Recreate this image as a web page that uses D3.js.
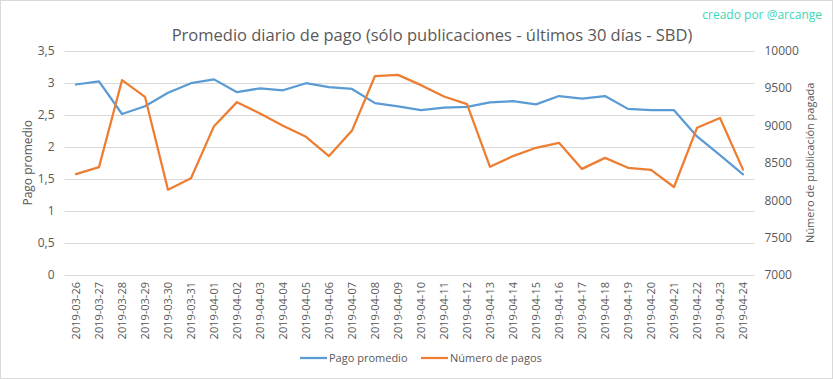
<!DOCTYPE html>
<html><head><meta charset="utf-8">
<script src="https://cdn.jsdelivr.net/npm/d3@7"></script>
<style>
html,body{margin:0;padding:0;background:#fff;}
svg{display:block;font-family:"Open Sans",sans-serif;}
</style></head>
<body>
<svg id="c" width="833" height="379"></svg>
<script>
const dates = ["2019-03-26","2019-03-27","2019-03-28","2019-03-29","2019-03-30","2019-03-31",
"2019-04-01","2019-04-02","2019-04-03","2019-04-04","2019-04-05","2019-04-06","2019-04-07",
"2019-04-08","2019-04-09","2019-04-10","2019-04-11","2019-04-12","2019-04-13","2019-04-14",
"2019-04-15","2019-04-16","2019-04-17","2019-04-18","2019-04-19","2019-04-20","2019-04-21",
"2019-04-22","2019-04-23","2019-04-24"];
const pagoPromedio = [2.97,3.02,2.51,2.63,2.84,2.99,3.05,2.85,2.91,2.88,2.99,2.93,2.90,
2.68,2.63,2.57,2.61,2.62,2.69,2.71,2.66,2.79,2.75,2.79,2.59,2.57,2.57,2.16,1.87,1.57];
const numeroPagos = [8348,8442,9603,9381,8140,8293,8989,9310,9159,8993,8846,8589,8930,
9659,9674,9537,9386,9283,8446,8589,8700,8766,8418,8565,8433,8405,8176,8967,9099,8408];
const leftTicks = [0,0.5,1,1.5,2,2.5,3,3.5];
const rightTicks = [7000,7500,8000,8500,9000,9500,10000];
const title = "Promedio diario de pago (sólo publicaciones - últimos 30 días - SBD)";
const credit = "creado por @arcange";
const leftTitle = "Pago promedio";
const rightTitle = "Número de publicación pagada";
const seriesNames = ["Pago promedio","Número de pagos"];
const colors = ["#5b9bd5","#ed7d31"];

const svg = d3.select("#c");
const W = 833, H = 379;
const L = 64.5, R = 754.5, T = 50.5, B = 275;
const textCol = "#595959";

svg.append("rect").attr("x",0.5).attr("y",0.5).attr("width",W-1).attr("height",H-1)
  .attr("fill","#fff").attr("stroke","#d9d9d9");

const x = d3.scalePoint().domain(dates).range([L,R]).padding(0.5);
const yL = d3.scaleLinear().domain([0,3.5]).range([B,T]);
const yR = d3.scaleLinear().domain([7000,10000]).range([B,T]);

// gridlines
svg.append("g").selectAll("line").data(leftTicks).join("line")
  .attr("x1",L).attr("x2",R)
  .attr("y1",d=>Math.round(yL(d))+0.5).attr("y2",d=>Math.round(yL(d))+0.5)
  .attr("stroke","#d9d9d9").attr("stroke-width",1);

// left axis
const gl = svg.append("g").attr("transform",`translate(${L},0)`)
  .call(d3.axisLeft(yL).tickValues(leftTicks).tickSize(0).tickPadding(10)
    .tickFormat(d=>String(d).replace(".",",")));
gl.select(".domain").remove();
gl.selectAll("text").attr("fill",textCol).style("font-size","12px").style("font-family","Open Sans");

// right axis
const gr = svg.append("g").attr("transform",`translate(${R},0)`)
  .call(d3.axisRight(yR).tickValues(rightTicks).tickSize(0).tickPadding(10)
    .tickFormat(d=>String(d)));
gr.select(".domain").remove();
gr.selectAll("text").attr("fill",textCol).style("font-size","12px").style("font-family","Open Sans");

// x axis
const gx = svg.append("g").attr("transform",`translate(0,${B})`)
  .call(d3.axisBottom(x).tickSize(0).tickPadding(0));
gx.select(".domain").remove();
gx.selectAll("text").attr("fill",textCol).style("font-size","11px").style("font-family","Open Sans")
  .attr("transform","rotate(-90)").attr("text-anchor","end").attr("dy","0.35em")
  .attr("x",-7).attr("y",0);

// lines
const line1 = d3.line().x((d,i)=>x(dates[i])).y(d=>yL(d));
const line2 = d3.line().x((d,i)=>x(dates[i])).y(d=>yR(d));
svg.append("path").datum(pagoPromedio).attr("d",line1).attr("fill","none")
  .attr("stroke",colors[0]).attr("stroke-width",2.25).attr("stroke-linejoin","round").attr("stroke-linecap","round");
svg.append("path").datum(numeroPagos).attr("d",line2).attr("fill","none")
  .attr("stroke",colors[1]).attr("stroke-width",2.25).attr("stroke-linejoin","round").attr("stroke-linecap","round");

// title
svg.append("text").attr("x",432).attr("y",41).attr("text-anchor","middle")
  .attr("fill",textCol).style("font-size","16.5px").text(title);

svg.append("text").attr("x",822).attr("y",19).attr("text-anchor","end")
  .attr("fill","#3dd6b5").style("font-size","12px").text(credit);

svg.append("text").attr("transform",`translate(32,${(T+B)/2}) rotate(-90)`)
  .attr("text-anchor","middle").attr("fill",textCol).style("font-size","12px").text(leftTitle);
svg.append("text").attr("transform",`translate(814,${(T+B)/2}) rotate(-90)`)
  .attr("text-anchor","middle").attr("fill",textCol).style("font-size","11px").text(rightTitle);

// legend
const leg = [{x:300},{x:421}];
leg.forEach((p,i)=>{
  svg.append("line").attr("x1",p.x).attr("x2",p.x+27).attr("y1",358).attr("y2",358)
    .attr("stroke",colors[i]).attr("stroke-width",2.25);
  svg.append("text").attr("x",p.x+29).attr("y",362).attr("fill",textCol)
    .style("font-size","11px").text(seriesNames[i]);
});
</script>
</body></html>
